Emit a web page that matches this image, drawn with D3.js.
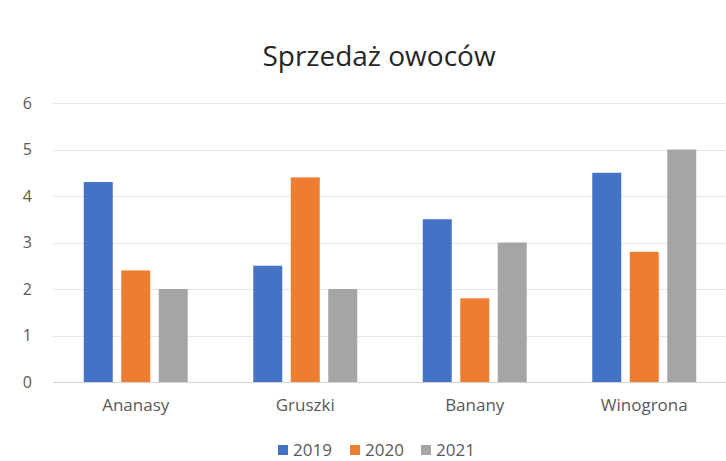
<!DOCTYPE html>
<html>
<head>
<meta charset="utf-8">
<script src="https://cdn.jsdelivr.net/npm/d3@7"></script>
<style>
  html, body { margin: 0; padding: 0; background: #fff; }
  svg { display: block; }
  text { font-family: "Open Sans", "Noto Sans", sans-serif; fill: #595959; }
</style>
</head>
<body>
<svg id="chart" width="726" height="461"></svg>
<script>
// Fruit sales per year
const categories = ["Ananasy", "Gruszki", "Banany", "Winogrona"];
const years = ["2019", "2020", "2021"];
const sales2019 = [4.3, 2.5, 3.5, 4.5];
const sales2020 = [2.4, 4.4, 1.8, 2.8];
const sales2021 = [2.0, 2.0, 3.0, 5.0];
const yTicks = [0, 1, 2, 3, 4, 5, 6];
const colors = ["#4472C4", "#ED7D31", "#A5A5A5"];
const title = "Sprzedaż owoców";

const seriesValues = [sales2019, sales2020, sales2021];

const svg = d3.select("#chart");

const x0 = d3.scaleBand().domain(categories).range([51, 729]).padding(0);
const x1 = d3.scaleBand().domain(years).range([0, x0.bandwidth()])
  .paddingInner(0.227).paddingOuter(0.874);
const y = d3.scaleLinear().domain([0, 6]).range([382, 103]);

// Title
svg.append("text")
  .attr("x", 379).attr("y", 66)
  .attr("text-anchor", "middle")
  .style("font-size", "28px")
  .style("fill", "#262626")
  .text(title);

// Horizontal gridlines
svg.append("g")
  .selectAll("line")
  .data(yTicks)
  .join("line")
  .attr("x1", 53).attr("x2", 726)
  .attr("y1", d => Math.round(y(d)) + 0.5)
  .attr("y2", d => Math.round(y(d)) + 0.5)
  .attr("stroke", d => d === 0 ? "#d4d4d4" : "#e6e6e6")
  .attr("stroke-width", 1.2);

// Y axis labels
const yAxis = d3.axisLeft(y).tickValues(yTicks).tickFormat(d3.format("d"))
  .tickSize(0).tickPadding(0);
svg.append("g")
  .attr("transform", "translate(32,0)")
  .call(yAxis)
  .call(g => g.select(".domain").remove())
  .call(g => g.selectAll("text")
    .style("font-size", "16px")
    .style("font-family", "'Open Sans', 'Noto Sans', sans-serif")
    .attr("fill", "#7a7a7a"));

// Bars
const groups = svg.append("g")
  .selectAll("g")
  .data(categories)
  .join("g")
  .attr("transform", d => `translate(${x0(d)},0)`);

groups.selectAll("rect")
  .data((d, i) => years.map((yr, s) => ({ yr, s, v: seriesValues[s][i] })))
  .join("rect")
  .attr("x", d => x1(d.yr))
  .attr("width", x1.bandwidth())
  .attr("y", d => y(d.v))
  .attr("height", d => y(0) - y(d.v))
  .attr("fill", d => colors[d.s]);

// Category labels
const xAxis = d3.axisBottom(x0).tickSize(0).tickPadding(0);
svg.append("g")
  .attr("transform", "translate(0,399)")
  .call(xAxis)
  .call(g => g.select(".domain").remove())
  .call(g => g.selectAll("text")
    .style("font-size", "17px")
    .style("font-family", "'Open Sans', 'Noto Sans', sans-serif")
    .attr("fill", "#3a3a3a"));

// Legend
const legendX = [278, 350, 421];
const legend = svg.append("g")
  .selectAll("g")
  .data(years)
  .join("g")
  .attr("transform", (d, i) => `translate(${legendX[i]},445)`);
legend.append("rect")
  .attr("width", 10).attr("height", 10)
  .attr("y", 0)
  .attr("fill", (d, i) => colors[i]);
legend.append("text")
  .attr("x", 15).attr("y", 11)
  .style("font-size", "17px")
  .text(d => d);
</script>
</body>
</html>
